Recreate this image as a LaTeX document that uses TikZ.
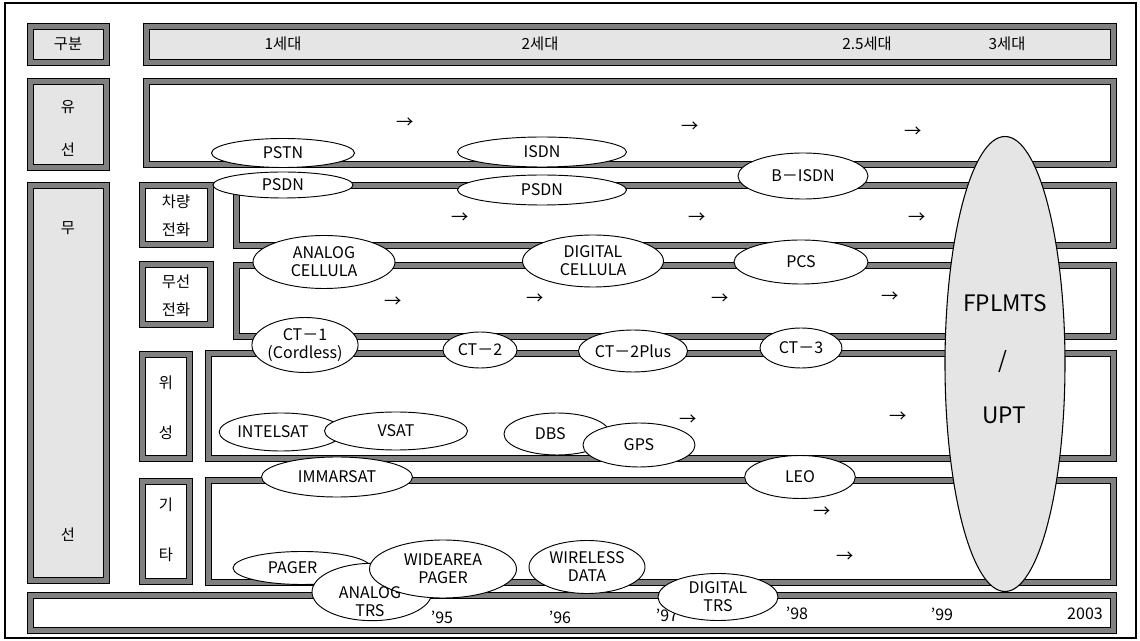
\documentclass[tikz,border=0pt]{standalone}
\usepackage{fontspec}
\setmainfont{Noto Sans CJK KR}
\usetikzlibrary{shapes.geometric}
\tikzset{
  band/.style={draw=black, line width=0.5pt, double=black!50, double distance=4.25pt},
  ell/.style={ellipse, draw=black, line width=0.7pt, fill=white, inner sep=0pt, align=center,
              font=\fontsize{12}{13.5}\selectfont},
  etext/.style={inner sep=0pt, align=center, font=\fontsize{12}{13.5}\selectfont},
  kor/.style={font=\fontsize{11.5}{13}\selectfont, inner sep=0pt},
  arr/.style={font=\fontsize{13}{14}\selectfont, inner sep=0pt},
  yr/.style={font=\fontsize{12}{13}\selectfont, inner sep=0pt},
  big/.style={font=\fontsize{17}{18}\selectfont, inner sep=0pt}
}
\newcommand\bandrect[5]{\draw[band,fill=#5] (#1+3.5,#2+3.5) rectangle (#3-3.5,#4-3.5);}
\begin{document}
\begin{tikzpicture}[x=0.75pt,y=-0.75pt]
\useasboundingbox (0,0) rectangle (1140,641);
\draw[line width=1pt] (5,3) rectangle (1136,638);
% boxes
\bandrect{27}{23}{110}{66}{black!10}
\bandrect{143}{23}{1117}{66}{black!10}
\bandrect{27}{78}{110}{171}{black!10}
\bandrect{143}{78}{1117}{168}{white}
\bandrect{27}{182}{110}{584}{black!10}
\bandrect{139}{182}{214}{248}{white}
\bandrect{233}{182}{1117}{249}{white}
\bandrect{139}{261}{214}{328}{white}
\bandrect{233}{262}{1117}{340}{white}
\bandrect{139}{351}{193}{462}{white}
\bandrect{205}{350}{1117}{462}{white}
\bandrect{139}{478}{193}{585}{white}
\bandrect{205}{477}{1117}{586}{white}
\bandrect{27}{592}{1117}{634}{white}
% header texts
\node[kor] (gubun) at (68,44) {구분};
\node[kor] (g1) at (283,44) {1세대};
\node[kor] (g2) at (540,44) {2세대};
\node[kor] (g25) at (867,44) {2.5세대};
\node[kor] (g3) at (1007,44) {3세대};
\node[kor] (yu) at (68,107) {유};
\node[kor] (seon1) at (68,150) {선};
\node[kor] (mu) at (68,228) {무};
\node[kor] (seon2) at (68,535) {선};
\node[kor, align=center, font=\fontsize{11.5}{21}\selectfont] (cha) at (176,216) {차량\\전화};
\node[kor, align=center, font=\fontsize{11.5}{21}\selectfont] (mus) at (176,296) {무선\\전화};
\node[kor] (wi1) at (166,383) {위};
\node[kor] (wi2) at (166,433) {성};
\node[kor] (gi1) at (166,505) {기};
\node[kor] (gi2) at (166,555) {타};
% arrows
\node[arr] (a1) at (405,123) {→};
\node[arr] (a2) at (690,127) {→};
\node[arr] (a3) at (913,132) {→};
\node[arr] (a4) at (460,218) {→};
\node[arr] (a5) at (697,218) {→};
\node[arr] (a6) at (917,218) {→};
\node[arr] (a7) at (393,302) {→};
\node[arr] (a8) at (535,299) {→};
\node[arr] (a9) at (720,299) {→};
\node[arr] (a10) at (890,297) {→};
\node[arr] (a11) at (688,420) {→};
\node[arr] (a12) at (898,417) {→};
\node[arr] (a13) at (822,512) {→};
\node[arr] (a14) at (845,557) {→};
% years
\node[yr] (y95) at (442,617) {'95};
\node[yr] (y96) at (560,617) {'96};
\node[yr] (y97) at (667,615) {'97};
\node[yr] (y98) at (797,613) {'98};
\node[yr] (y99) at (942,614) {'99};
\node[yr] (y03) at (1085,614) {2003};
% ellipses
\node[ell, minimum width=107.25pt, minimum height=21.75pt] (pstn) at (283,153) {PSTN};
\node[ell, minimum width=105pt, minimum height=19.5pt] (psdn1) at (283,185) {PSDN};
\node[ell, minimum width=126.75pt, minimum height=22.5pt] (isdn) at (542,152) {ISDN};
\node[ell, minimum width=126.75pt, minimum height=22.5pt] (psdn2) at (542,190) {PSDN};
\node[ell, minimum width=97.5pt, minimum height=34.5pt] (bisdn) at (803,176) {B－ISDN};
\node[ell, minimum width=106.5pt, minimum height=39.75pt] (acell) at (324,262) {ANALOG\\CELLULA};
\node[ell, minimum width=105.75pt, minimum height=39pt] (dcell) at (593,261) {DIGITAL\\CELLULA};
\node[ell, minimum width=100.5pt, minimum height=33pt] (pcs) at (801,262) {PCS};
\node[ell, minimum width=76.5pt, minimum height=41.25pt] (ct1) at (305,345) {CT－1\\(Cordless)};
\node[ell, minimum width=55.5pt, minimum height=27pt] (ct2) at (480,350) {CT－2};
\node[ell, minimum width=81.75pt, minimum height=31.5pt] (ct2p) at (633,351) {CT－2Plus};
\node[ell, minimum width=61.5pt, minimum height=30pt] (ct3) at (801,348) {CT－3};
\node[ell, minimum width=87.75pt, minimum height=28.5pt] (intelsat) at (281,432) {INTELSAT\hspace{12pt}};
\node[ell, minimum width=107.25pt, minimum height=28.5pt] (vsat) at (396,431) {VSAT};
\node[ell, minimum width=113.25pt, minimum height=30pt] (immarsat) at (337,477) {IMMARSAT};
\node[ell, minimum width=79.5pt, minimum height=31.5pt] (dbs) at (557,434) {\hspace{-10pt}DBS};
\node[ell, minimum width=84pt, minimum height=33pt] (gps) at (639,445) {GPS};
\node[ell, minimum width=83pt, minimum height=32.25pt] (leo) at (800,477) {LEO};
\node[ell, minimum width=103.5pt, minimum height=24.75pt] (pager) at (302,568) {PAGER\hspace{14pt}};
\node[ell, minimum width=90pt, minimum height=43pt] (atrs) at (372,592) {};
\node[ell, minimum width=110.25pt, minimum height=43.5pt] (wide) at (443,569) {WIDEAREA\\PAGER};
\node[etext] (atrst) at (370,602) {ANALOG\\TRS};
\node[ell, minimum width=87pt, minimum height=39.75pt] (wdata) at (587,567) {WIRELESS\\DATA};
\node[ell, minimum width=90pt, minimum height=35.25pt] (dtrs) at (718,597) {DIGITAL\\TRS};
% big ellipse
\node[ellipse, draw=black, line width=0.8pt, fill=black!10, minimum width=90pt, minimum height=341.25pt, inner sep=0pt] (fplmts) at (1005,364) {};
\node[big] (t1) at (1005,303) {FPLMTS};
\node[big] (t2) at (1003,362) {/};
\node[big] (t3) at (1004,415) {UPT};
\end{tikzpicture}
\end{document}
